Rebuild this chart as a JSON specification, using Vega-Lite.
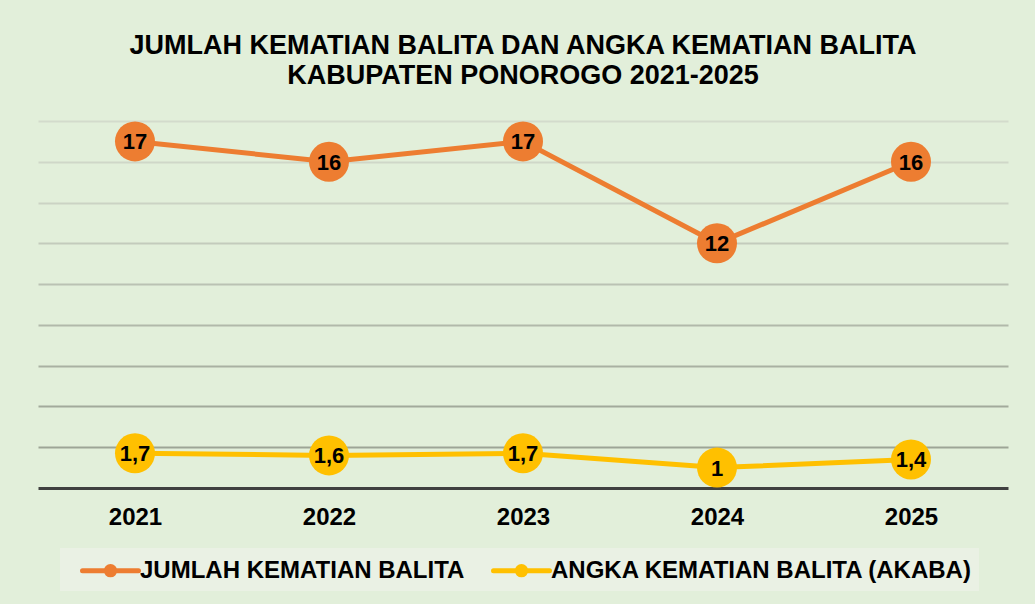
{
  "$schema": "https://vega.github.io/schema/vega-lite/v6.json",
  "width": 970,
  "height": 367,
  "autosize": {"type": "none"},
  "padding": {"left": 38, "top": 121, "right": 27, "bottom": 116},
  "background": "#E2EFDA",
  "title": {
    "text": ["JUMLAH KEMATIAN BALITA DAN ANGKA KEMATIAN BALITA", "KABUPATEN PONOROGO 2021-2025"],
    "font": "Liberation Sans",
    "fontSize": 27,
    "fontWeight": "bold",
    "color": "#000000",
    "lineHeight": 30,
    "anchor": "middle",
    "offset": 31
  },
  "data": {
    "values": [
      {"year": "2021", "series": "JUMLAH KEMATIAN BALITA", "value": 17},
      {"year": "2022", "series": "JUMLAH KEMATIAN BALITA", "value": 16},
      {"year": "2023", "series": "JUMLAH KEMATIAN BALITA", "value": 17},
      {"year": "2024", "series": "JUMLAH KEMATIAN BALITA", "value": 12},
      {"year": "2025", "series": "JUMLAH KEMATIAN BALITA", "value": 16},
      {"year": "2021", "series": "ANGKA KEMATIAN BALITA (AKABA)", "value": 1.7},
      {"year": "2022", "series": "ANGKA KEMATIAN BALITA (AKABA)", "value": 1.6},
      {"year": "2023", "series": "ANGKA KEMATIAN BALITA (AKABA)", "value": 1.7},
      {"year": "2024", "series": "ANGKA KEMATIAN BALITA (AKABA)", "value": 1},
      {"year": "2025", "series": "ANGKA KEMATIAN BALITA (AKABA)", "value": 1.4}
    ]
  },
  "transform": [
    {"calculate": "replace(toString(datum.value), '.', ',')", "as": "label"}
  ],
  "encoding": {
    "x": {
      "field": "year",
      "type": "ordinal",
      "scale": {"type": "point", "padding": 0.5},
      "axis": {
        "title": null,
        "labelAngle": 0,
        "labelFont": "Liberation Sans",
        "labelFontSize": 24,
        "labelFontWeight": "bold",
        "labelColor": "#000000",
        "labelPadding": 17,
        "ticks": false,
        "domain": true,
        "domainColor": "#404040",
        "domainWidth": 3,
        "grid": false
      }
    },
    "y": {
      "field": "value",
      "type": "quantitative",
      "scale": {"domain": [0, 18], "nice": false},
      "axis": {
        "title": null,
        "labels": false,
        "ticks": false,
        "domain": false,
        "grid": true,
        "values": [2, 4, 6, 8, 10, 12, 14, 16, 18],
        "gridWidth": 2,
        "gridColor": {
          "condition": [
            {"test": "datum.value <= 2", "value": "#9DA596"},
            {"test": "datum.value <= 4", "value": "#A2AA9B"},
            {"test": "datum.value <= 6", "value": "#A9B1A2"},
            {"test": "datum.value <= 8", "value": "#B1B9AA"},
            {"test": "datum.value <= 10", "value": "#BAC2B3"},
            {"test": "datum.value <= 12", "value": "#C3CBBC"},
            {"test": "datum.value <= 14", "value": "#CBD3C4"},
            {"test": "datum.value <= 16", "value": "#CFD7C8"}
          ],
          "value": "#D3DBCC"
        }
      }
    },
    "color": {
      "field": "series",
      "type": "nominal",
      "scale": {
        "domain": ["JUMLAH KEMATIAN BALITA", "ANGKA KEMATIAN BALITA (AKABA)"],
        "range": ["#ED7D31", "#FFC000"]
      },
      "legend": {
        "title": null,
        "orient": "none",
        "legendX": 22,
        "legendY": 427,
        "direction": "horizontal",
        "padding": 6,
        "fillColor": "#EAF1E4",
        "labelFont": "Liberation Sans",
        "labelFontSize": 24,
        "labelFontWeight": "bold",
        "labelColor": "#000000",
        "labelLimit": 0,
        "labelOffset": 41,
        "columnPadding": 12,
        "symbolType": "M0,0L4,0M1.7,0A0.3,0.3,0,1,0,2.3,0A0.3,0.3,0,1,0,1.7,0Z",
        "symbolSize": 784,
        "symbolStrokeWidth": 5,
        "encode": {
          "symbols": {
            "update": {
              "fill": {"scale": "color", "field": "value"},
              "stroke": {"scale": "color", "field": "value"},
              "strokeCap": {"value": "round"},
              "opacity": {"value": 1}
            }
          }
        }
      }
    }
  },
  "layer": [
    {"mark": {"type": "line", "strokeWidth": 5}},
    {"mark": {"type": "circle", "size": 1600, "opacity": 1}},
    {
      "mark": {
        "type": "text",
        "font": "Liberation Sans",
        "fontSize": 22,
        "fontWeight": "bold",
        "color": "#000000",
        "align": "center",
        "baseline": "middle",
        "dy": 1
      },
      "encoding": {
        "text": {"field": "label"},
        "color": {"value": "#000000"}
      }
    }
  ],
  "config": {
    "view": {"stroke": null}
  }
}
